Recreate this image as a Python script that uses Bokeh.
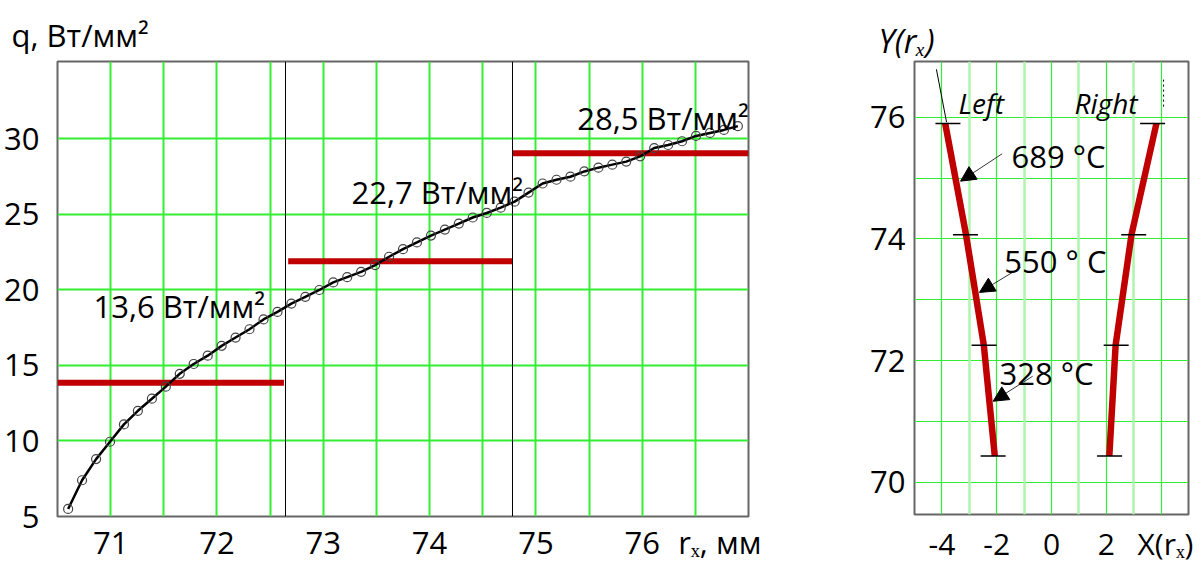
from bokeh.plotting import figure
from bokeh.layouts import row
from bokeh.models import (ColumnDataSource, FixedTicker, Label, Arrow, NormalHead,
                          Span, Grid, Range1d)
from bokeh.embed import file_html
from bokeh.resources import INLINE

FONT = "Open Sans"

# ---------------- data: left chart ----------------
r_x = [70.600, 70.731, 70.863, 70.994, 71.125, 71.256, 71.388, 71.519, 71.650, 71.781,
       71.913, 72.044, 72.175, 72.306, 72.438, 72.569, 72.700, 72.831, 72.963, 73.094,
       73.225, 73.356, 73.488, 73.619, 73.750, 73.881, 74.013, 74.144, 74.275, 74.406,
       74.538, 74.669, 74.800, 74.931, 75.063, 75.194, 75.325, 75.456, 75.588, 75.719,
       75.850, 75.981, 76.113, 76.244, 76.375, 76.506, 76.638, 76.769, 76.900]
q_vals = [5.5, 7.4, 8.8, 9.95, 11.1, 12.0, 12.8, 13.6, 14.45, 15.1,
          15.65, 16.3, 16.85, 17.4, 18.05, 18.55, 19.1, 19.55, 20.0, 20.5,
          20.85, 21.2, 21.65, 22.2, 22.7, 23.15, 23.6, 24.0, 24.4, 24.8,
          25.1, 25.45, 25.85, 26.45, 27.05, 27.3, 27.5, 27.85, 28.1, 28.3,
          28.5, 28.85, 29.4, 29.6, 29.85, 30.2, 30.4, 30.6, 30.85]

seg_start = [70.5, 72.67, 74.78]
seg_end = [72.63, 74.78, 77.0]
seg_q = [13.85, 21.9, 29.05]
seg_labels = ["13,6 Вт/мм²", "22,7 Вт/мм²", "28,5 Вт/мм²"]
zone_bounds = [72.645, 74.78]

x_ticks = [71, 72, 73, 74, 75, 76]
x_grid = [71.0, 71.5, 72.0, 72.5, 73.0, 73.5, 74.0, 74.5, 75.0, 75.5, 76.0, 76.5]
y_ticks = [5, 10, 15, 20, 25, 30]
y_grid = [10, 15, 20, 25, 30]
x_title = "rₓ, мм"
y_title = "q, Вт/мм²"

# ---------------- data: right chart ----------------
prof_y = [75.9, 74.07, 72.25, 70.43]
left_x = [-3.88, -3.12, -2.47, -2.07]
right_x = [3.83, 2.92, 2.34, 2.11]
left_mark_x = [-3.78, -3.14, -2.46, -2.13]
right_mark_x = [3.69, 3.0, 2.36, 2.12]
temp_labels = ["689 °C", "550 ° C", "328 °C"]
arrow_x0 = [-1.80, -1.13, -0.69]
arrow_y0 = [75.40, 73.53, 71.74]
arrow_x1 = [-3.32, -2.63, -2.13]
arrow_y1 = [74.95, 73.12, 71.33]
x2_ticks = [-4, -2, 0, 2]
x2_tick_labels = ["-4", "-2", "0", "2"]
x2_grid_major = [-4, -2, 0, 2, 4]
x2_grid_minor = [-3, -1, 1, 3]
y2_ticks = [70, 72, 74, 76]
y2_grid = [70, 71, 72, 73, 74, 75, 76]
x2_title = "X(rₓ)"
y2_title = "Y(rₓ)"

# label positions (layout only)
seg_label_pos = [(70.839, 18.91), (73.266, 26.52), (75.39, 31.42)]
temp_label_pos = [(-1.46, 75.37), (-1.72, 73.63), (-1.90, 71.79)]
x_title_at = 76.73
x2_title_at = 4.16

GREEN = "#33ee33"
RED = "#c00000"


def style_axes(p, size):
    for ax in (p.xaxis, p.yaxis):
        ax.axis_line_color = None
        ax.major_tick_line_color = None
        ax.minor_tick_line_color = None
        ax.major_tick_out = 0
        ax.major_tick_in = 0
        ax.major_label_text_font = FONT
        ax.major_label_text_font_size = size
        ax.major_label_text_color = "black"


# ================= left chart =================
p = figure(frame_width=691, frame_height=455,
           x_range=Range1d(70.5, 77.0), y_range=Range1d(5, 35.13),
           output_backend="svg", toolbar_location=None,
           min_border_left=57, min_border_right=59, min_border_top=61, min_border_bottom=45)
p.xaxis.ticker = FixedTicker(ticks=x_ticks + [x_title_at])
p.xaxis.major_label_overrides = {x_title_at: x_title}
p.yaxis.ticker = FixedTicker(ticks=y_ticks)
style_axes(p, "31px")
p.xaxis.major_label_standoff = 4
p.yaxis.major_label_standoff = 18
p.xgrid.ticker = FixedTicker(ticks=x_grid)
p.ygrid.ticker = FixedTicker(ticks=y_grid)
p.grid.grid_line_color = GREEN
p.grid.grid_line_width = 2
p.outline_line_color = "#666666"
p.outline_line_width = 2

p.title.text = y_title
p.title.align = "left"
p.title.offset = -46
p.title.text_font = FONT
p.title.text_font_size = "31px"
p.title.text_font_style = "normal"
p.title.text_color = "black"
p.title.standoff = 12

for b in zone_bounds:
    p.add_layout(Span(location=b, dimension="height", line_color="black", line_width=1))

p.segment(x0=seg_start, y0=seg_q, x1=seg_end, y1=seg_q, line_color=RED, line_width=6)
p.line(r_x, q_vals, line_color="black", line_width=2.5)
p.scatter(r_x, q_vals, size=9, fill_color=None, line_color="#444444", line_width=1.2)

for (lx, ly), txt in zip(seg_label_pos, seg_labels):
    p.add_layout(Label(x=lx, y=ly, text=txt, text_font=FONT, text_font_size="31px",
                       text_baseline="alphabetic", text_color="black"))

# ================= right chart =================
p2 = figure(frame_width=274, frame_height=453,
            x_range=Range1d(-5, 5), y_range=Range1d(69.467, 76.918),
            output_backend="svg", toolbar_location=None,
            min_border_left=107, min_border_right=10, min_border_top=61, min_border_bottom=45)
p2.xaxis.ticker = FixedTicker(ticks=x2_ticks + [x2_title_at])
overrides = dict(zip(x2_ticks, x2_tick_labels))
overrides[x2_title_at] = x2_title
p2.xaxis.major_label_overrides = overrides
p2.yaxis.ticker = FixedTicker(ticks=y2_ticks)
style_axes(p2, "31px")
p2.xaxis.major_label_text_font_size = "30px"
p2.xaxis.major_label_standoff = 8
p2.yaxis.major_label_standoff = 9
p2.xgrid.ticker = FixedTicker(ticks=x2_grid_major)
p2.ygrid.ticker = FixedTicker(ticks=y2_grid)
p2.grid.grid_line_color = GREEN
p2.grid.grid_line_width = 1.2
p2.add_layout(Grid(dimension=0, ticker=FixedTicker(ticks=x2_grid_minor),
                   grid_line_color="#aef5ae", grid_line_width=2.5))
p2.outline_line_color = "#666666"
p2.outline_line_width = 2

p2.title.text = y2_title
p2.title.align = "left"
p2.title.offset = -36
p2.title.text_font = FONT
p2.title.text_font_size = "32px"
p2.title.text_font_style = "italic"
p2.title.text_color = "black"
p2.title.standoff = 0

p2.line(left_x, prof_y, line_color=RED, line_width=6.5)
p2.line(right_x, prof_y, line_color=RED, line_width=6.5)
p2.scatter(left_mark_x, prof_y, marker="dash", size=25, line_color="black", line_width=1.5)
p2.scatter(right_mark_x, prof_y, marker="dash", size=25, line_color="black", line_width=1.5)

arrow_src = ColumnDataSource(dict(x0=arrow_x0, y0=arrow_y0, x1=arrow_x1, y1=arrow_y1))
p2.add_layout(Arrow(source=arrow_src, x_start="x0", y_start="y0", x_end="x1", y_end="y1",
                    line_color="black", line_width=0.8,
                    end=NormalHead(size=15, fill_color="black", line_color="black")))

# pointer lines near the titles
p2.segment(x0=[-4.20], y0=[76.79], x1=[-3.83], y1=[75.92], line_color="black", line_width=1)
p2.segment(x0=[4.09], y0=[76.62], x1=[4.09], y1=[76.16], line_color="black",
           line_width=1, line_dash="2 3")

for (lx, ly), txt in zip(temp_label_pos, temp_labels):
    p2.add_layout(Label(x=lx, y=ly, text=txt, text_font=FONT, text_font_size="31px",
                        text_baseline="alphabetic", text_color="black"))
p2.add_layout(Label(x=-3.39, y=76.24, text="Left", text_font=FONT, text_font_style="italic",
                    text_font_size="28px", text_baseline="alphabetic", text_color="black"))
p2.add_layout(Label(x=0.84, y=76.24, text="Right", text_font=FONT, text_font_style="italic",
                    text_font_size="28px", text_baseline="alphabetic", text_color="black"))

layout = row(p, p2)
open("out.html", "w").write(file_html(layout, INLINE))
